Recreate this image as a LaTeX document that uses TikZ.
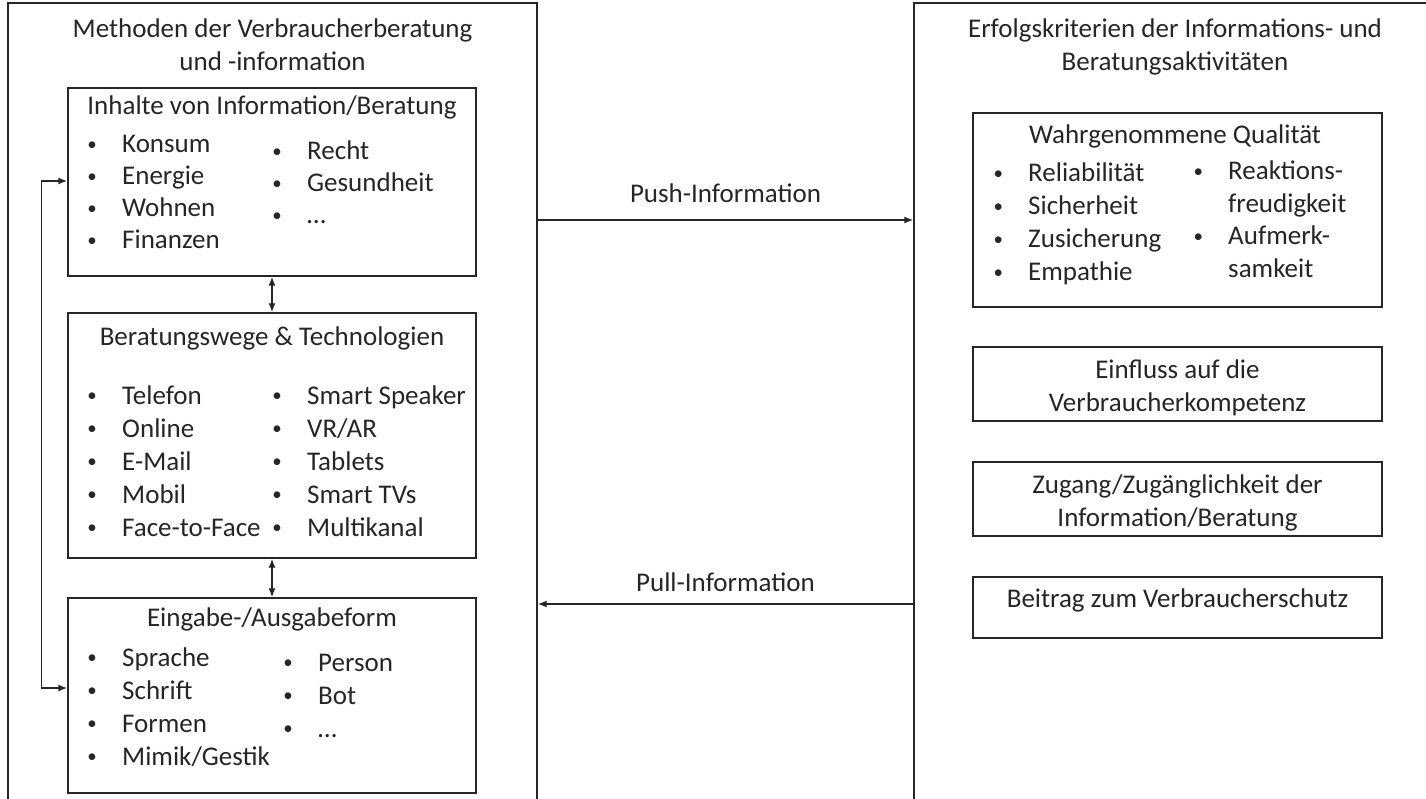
\documentclass[tikz,border=0pt]{standalone}
\usepackage{fontspec}
\setmainfont{Carlito}
\usetikzlibrary{arrows.meta}
\tikzset{
  frame/.style={draw=black!85, line width=1.4pt, rectangle, inner sep=0pt},
  txt/.style={font=\fontsize{27}{33}\selectfont, inner sep=0pt, text=black!85},
  lbl/.style={txt, anchor=base},
  lst/.style={txt, anchor=base west},
  arr/.style={draw=black!85, line width=1.4pt, -{Latex[length=9pt,width=7pt]}},
  darr/.style={draw=black!85, line width=1.4pt, {Latex[length=9pt,width=7pt]}-{Latex[length=9pt,width=7pt]}},
}
\newcommand{\itm}[1]{\makebox[0pt]{\raisebox{2.6pt}{\scalebox{0.7}{\textbullet}}}\hspace*{30pt}#1}
\newcommand{\cnt}[1]{\hspace*{30pt}#1}
\begin{document}
\begin{tikzpicture}[x=1pt,y=-1pt]
\useasboundingbox (0,0) rectangle (1426,799);
\clip (0,0) rectangle (1426,799);
\fill[white] (0,0) rectangle (1426,799);

% outer frames
\node[frame, minimum width=529pt, minimum height=847pt] (lo) at (272.5,426.5) {};
\node[frame, minimum width=586pt, minimum height=847pt] (ro) at (1207,426.5) {};

% titles
\node[lbl] (ltitle) at (272.5,38) {\begin{tabular}[t]{@{}c@{}}Methoden der Verbraucherberatung\\und -information\end{tabular}};
\node[lbl] (rtitle) at (1175,38) {\begin{tabular}[t]{@{}c@{}}Erfolgskriterien der Informations- und\\Beratungsaktivit\"aten\end{tabular}};

% left inner boxes
\node[frame, minimum width=408pt, minimum height=188pt] (inh) at (272,182) {};
\node[frame, minimum width=408pt, minimum height=245pt] (ber) at (272,435.5) {};
\node[frame, minimum width=408pt, minimum height=195pt] (ein) at (272,695.5) {};

\node[lbl] (inht) at (272,115) {Inhalte von Information/Beratung};
\node[lst, font=\fontsize{27}{32}\selectfont] (inha) at (92,153) {\begin{tabular}[t]{@{}l@{}}\itm{Konsum}\\\itm{Energie}\\\itm{Wohnen}\\\itm{Finanzen}\end{tabular}};
\node[lst, font=\fontsize{27}{32}\selectfont] (inhb) at (277,160) {\begin{tabular}[t]{@{}l@{}}\itm{Recht}\\\itm{Gesundheit}\\\itm{\dots}\end{tabular}};

\node[lbl] (bert) at (272,345) {Beratungswege \& Technologien};
\node[lst] (bera) at (92,404) {\begin{tabular}[t]{@{}l@{}}\itm{Telefon}\\\itm{Online}\\\itm{E-Mail}\\\itm{Mobil}\\\itm{Face-to-Face}\end{tabular}};
\node[lst] (berb) at (277,404) {\begin{tabular}[t]{@{}l@{}}\itm{Smart Speaker}\\\itm{VR/AR}\\\itm{Tablets}\\\itm{Smart TVs}\\\itm{Multikanal}\end{tabular}};

\node[lbl] (eint) at (272,626) {Eingabe-/Ausgabeform};
\node[lst] (eina) at (92,666) {\begin{tabular}[t]{@{}l@{}}\itm{Sprache}\\\itm{Schrift}\\\itm{Formen}\\\itm{Mimik/Gestik}\end{tabular}};
\node[lst] (einb) at (288,671) {\begin{tabular}[t]{@{}l@{}}\itm{Person}\\\itm{Bot}\\\itm{\dots}\end{tabular}};

% right inner boxes
\node[frame, minimum width=409pt, minimum height=194pt] (wq) at (1177.5,210) {};
\node[frame, minimum width=409pt, minimum height=74pt] (ev) at (1177.5,384) {};
\node[frame, minimum width=409pt, minimum height=74pt] (zg) at (1177.5,499) {};
\node[frame, minimum width=409pt, minimum height=61pt] (bv) at (1177.5,607.5) {};

\node[lbl] (wqt) at (1175,144) {Wahrgenommene Qualit\"at};
\node[lst] (wqa) at (998,182) {\begin{tabular}[t]{@{}l@{}}\itm{Reliabilit\"at}\\\itm{Sicherheit}\\\itm{Zusicherung}\\\itm{Empathie}\end{tabular}};
\node[lst, font=\fontsize{27}{32.5}\selectfont] (wqb) at (1198,180) {\begin{tabular}[t]{@{}l@{}}\itm{Reaktions-}\\\cnt{freudigkeit}\\\itm{Aufmerk-}\\\cnt{samkeit}\end{tabular}};

\node[lbl] (evt) at (1177.5,378) {\begin{tabular}[t]{@{}c@{}}Einfluss auf die\\Verbraucherkompetenz\end{tabular}};
\node[lbl] (zgt) at (1177.5,493) {\begin{tabular}[t]{@{}c@{}}Zugang/Zug\"anglichkeit der\\Information/Beratung\end{tabular}};
\node[lbl] (bvt) at (1177.5,607) {Beitrag zum Verbraucherschutz};

% connectors
\draw[darr] (inh.south) -- (ber.north);
\draw[darr] (ber.south) -- (ein.north);

\coordinate (fb1) at (0,181);
\coordinate (fb2) at (0,688);
\draw[darr] (inh.west |- fb1) -- ++(-26,0) |- (ein.west |- fb2);

\coordinate (pushy) at (0,220);
\coordinate (pully) at (0,604);
\draw[arr] (lo.east |- pushy) -- (ro.west |- pushy) node[midway, lbl, yshift=17pt] (pushl) {Push-Information};
\draw[arr] (ro.west |- pully) -- (lo.east |- pully) node[midway, lbl, yshift=13pt] (pulll) {Pull-Information};
\end{tikzpicture}
\end{document}
